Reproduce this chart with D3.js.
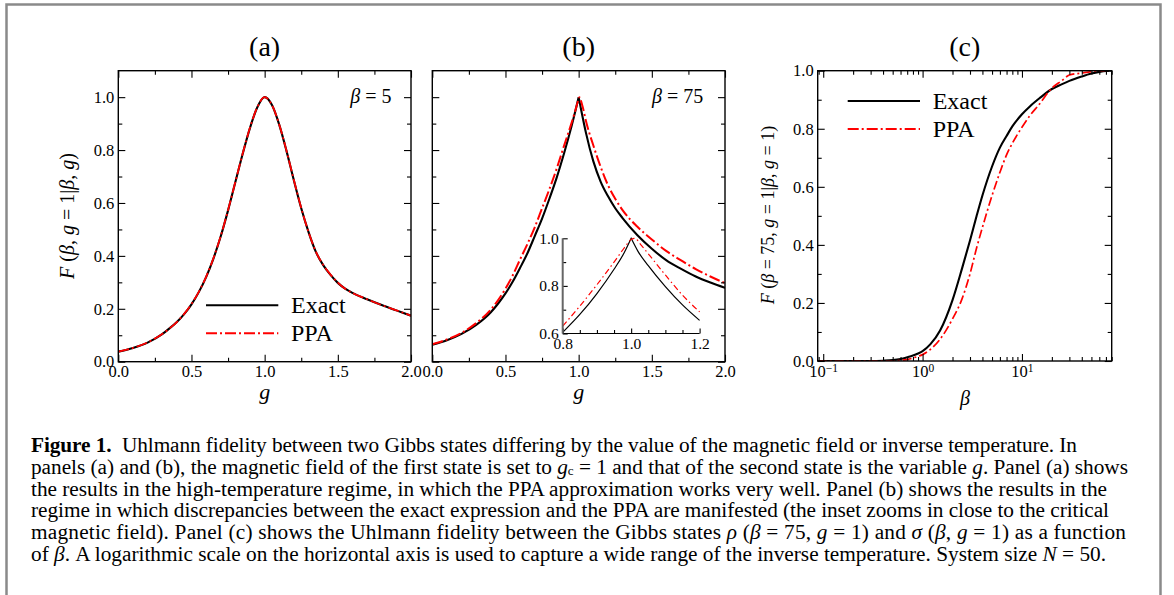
<!DOCTYPE html>
<html><head><meta charset="utf-8">
<script src="https://cdn.jsdelivr.net/npm/d3@7"></script>
<style>
body{margin:0;background:#fff;}
svg{display:block;}
text{font-family:"Liberation Serif","Times New Roman",serif;fill:#000;}
</style></head><body>
<svg id="fig" width="1174" height="595"></svg>
<script>
// ---------------- data ----------------
// Panel (a): beta = 5
const gA      = [0,0.1,0.2,0.3,0.35,0.4,0.45,0.5,0.55,0.6,0.65,0.7,0.75,0.8,0.85,0.9,0.95,1.0,1.05,1.1,1.15,1.2,1.25,1.3,1.35,1.4,1.45,1.5,1.55,1.6,1.7,1.8,1.9,2.0];
const exactA  = [0.038,0.052,0.072,0.104,0.126,0.15,0.18,0.217,0.263,0.32,0.39,0.474,0.572,0.679,0.786,0.884,0.962,1.0,0.97,0.895,0.795,0.685,0.58,0.49,0.415,0.365,0.328,0.298,0.276,0.26,0.236,0.214,0.194,0.174];
const ppaA    = [0.038,0.052,0.073,0.105,0.126,0.15,0.181,0.218,0.264,0.321,0.391,0.475,0.573,0.68,0.787,0.885,0.962,1.0,0.97,0.896,0.796,0.686,0.581,0.49,0.416,0.366,0.329,0.299,0.276,0.26,0.236,0.214,0.194,0.174];
// Panel (b): beta = 75
const gBexact = [0,0.1,0.2,0.3,0.4,0.45,0.5,0.55,0.6,0.65,0.7,0.75,0.8,0.85,0.9,0.95,0.98,1.0,1.02,1.05,1.1,1.15,1.2,1.25,1.3,1.4,1.5,1.6,1.7,1.8,1.9,2.0];
const exactB  = [0.064,0.081,0.105,0.139,0.187,0.22,0.258,0.303,0.355,0.41,0.475,0.541,0.616,0.696,0.787,0.887,0.953,1.0,0.944,0.865,0.758,0.681,0.626,0.58,0.543,0.479,0.427,0.383,0.351,0.322,0.299,0.279];
const gBppa   = [0,0.1,0.2,0.3,0.4,0.45,0.5,0.55,0.6,0.65,0.7,0.75,0.8,0.85,0.9,0.95,0.975,1.0,1.005,1.01,1.03,1.05,1.1,1.15,1.2,1.25,1.3,1.4,1.5,1.6,1.7,1.8,1.9,2.0];
const ppaB    = [0.066,0.084,0.109,0.146,0.197,0.233,0.276,0.327,0.387,0.445,0.508,0.58,0.652,0.73,0.816,0.9,0.945,0.993,1.0,0.995,0.958,0.91,0.818,0.737,0.668,0.616,0.573,0.511,0.462,0.418,0.383,0.35,0.322,0.297];
// Panel (b) inset
const gInExact = [0.8,0.85,0.9,0.95,0.98,1.0,1.02,1.05,1.1,1.15,1.2];
const exactIn  = [0.605,0.68,0.768,0.87,0.94,1.0,0.945,0.885,0.797,0.72,0.655];
const gInPpa   = [0.8,0.85,0.9,0.95,0.98,1.0,1.01,1.03,1.05,1.1,1.15,1.2];
const ppaIn    = [0.631,0.715,0.805,0.9,0.96,0.995,1.0,0.97,0.935,0.846,0.761,0.691];
// Panel (c): fidelity vs beta
const betaC   = [0.088,0.1,0.2,0.3,0.4,0.5,0.6,0.7,0.8,0.9,1.0,1.2,1.5,2,2.5,3,3.5,4,5,6,7,8,10,12,15,20,25,30,40,50,60,75];
const exactC  = [0,0,0,0,0.001,0.003,0.007,0.013,0.019,0.026,0.034,0.058,0.105,0.21,0.32,0.415,0.5,0.57,0.67,0.735,0.775,0.808,0.85,0.877,0.905,0.937,0.953,0.965,0.98,0.99,0.996,1.0];
const ppaC    = [0,0,0,0,0,0,0.002,0.005,0.01,0.016,0.022,0.04,0.075,0.145,0.215,0.3,0.39,0.46,0.57,0.65,0.71,0.75,0.805,0.845,0.885,0.94,0.965,0.985,0.992,0.997,1.0,1.0];
// tick values
const gTicksMajor = [0,0.5,1.0,1.5,2.0];
const gTicksMinor = [0.25,0.75,1.25,1.75];
const fTicksMajor = [0,0.2,0.4,0.6,0.8,1.0];
const fTicksMinor = [0.1,0.3,0.5,0.7,0.9];
const inXMajor = [0.8,1.0,1.2];
const inXMinor = [0.85,0.9,0.95,1.05,1.1,1.15];
const inYMajor = [0.6,0.8,1.0];
const inYMinor = [0.7,0.9];
const betaMajor = [0.1,1,10];
const betaMinor = [0.09,0.2,0.3,0.4,0.5,0.6,0.7,0.8,0.9,2,3,4,5,6,7,8,9,20,30,40,50,60,70,80];
const betaExp = ["\u22121","0","1"];
const panelTitles = ["(a)","(b)","(c)"];
const legendLabels = ["Exact","PPA"];

// caption lines: segments [text, style]
const caption = [
  [["Figure 1.","b"],["  Uhlmann fidelity between two Gibbs states differing by the value of the magnetic field or inverse temperature. In",""]],
  [["panels (a) and (b), the magnetic field of the first state is set to ",""],["g","i"],["c","sub"],[" = 1 and that of the second state is the variable ","rs"],["g","i"],[". Panel (a) shows",""]],
  [["the results in the high-temperature regime, in which the PPA approximation works very well. Panel (b) shows the results in the",""]],
  [["regime in which discrepancies between the exact expression and the PPA are manifested (the inset zooms in close to the critical",""]],
  [["magnetic field). Panel (c) shows the Uhlmann fidelity between the Gibbs states ",""],["\u03C1","i"],[" (",""],["\u03B2","i"],[" = 75, ",""],["g","i"],[" = 1)",""],[" and ",""],["\u03C3","i"],[" (",""],["\u03B2","i"],[", ",""],["g","i"],[" = 1)",""],[" as a function",""]],
  [["of ",""],["\u03B2","i"],[". A logarithmic scale on the horizontal axis is used to capture a wide range of the inverse temperature. System size ",""],["N","i"],[" = 50.",""]]
];
const captionEnds = [1077,1128,1107,1109,1126,1106];

// ---------------- layout ----------------
const svg = d3.select("#fig");
const RED = "#ff0000";
const P = {
  a:{x0:118.3,x1:411,y0:70.7,y1:361.7},
  b:{x0:432.3,x1:725,y0:70.7,y1:361.7},
  c:{x0:817.7,x1:1111.7,y0:70.7,y1:361}
};

// outer gray border
svg.append("path").attr("d","M6.5,595V4.5H1160.5V595")
  .attr("fill","none").attr("stroke","#8a8a8a").attr("stroke-width",2.5);

function pts(xs, ys){ return xs.map((x,i)=>[x,ys[i]]); }

function cuspPath(line, data, peakX){
  const i = data.findIndex(d=>d[0]===peakX);
  const left = data.slice(0,i+1), right = data.slice(i);
  return line(left) + line(right).replace(/^M/,"L");
}

function styleAxis(g, fs){
  g.attr("font-family",null).attr("font-size",null);
  g.select(".domain").remove();
  g.selectAll(".tick line").attr("stroke","#000").attr("stroke-width",1.1);
  g.selectAll(".tick text").attr("font-size",fs).attr("fill","#000")
    .style("font-family",'"Liberation Serif","Times New Roman",serif');
}

function frameTicks(p, x, y, o){
  const root = svg.append("g");
  const fmt = d3.format(".1f");
  const maj = 7, mnr = 4;
  root.append("g").attr("class","xbottom").attr("transform",`translate(0,${p.y1})`)
    .call(d3.axisBottom(x).tickValues(o.xMajor).tickSize(-maj).tickPadding(4).tickFormat(o.xFmt||fmt))
    .call(g=>styleAxis(g,16.5));
  root.append("g").attr("transform",`translate(0,${p.y1})`)
    .call(d3.axisBottom(x).tickValues(o.xMinor).tickSize(-mnr).tickFormat(""))
    .call(g=>styleAxis(g,16.5));
  root.append("g").attr("transform",`translate(0,${p.y0})`)
    .call(d3.axisTop(x).tickValues(o.xMajor).tickSize(-maj).tickFormat(""))
    .call(g=>styleAxis(g,16.5));
  root.append("g").attr("transform",`translate(0,${p.y0})`)
    .call(d3.axisTop(x).tickValues(o.xMinor).tickSize(-mnr).tickFormat(""))
    .call(g=>styleAxis(g,16.5));
  root.append("g").attr("transform",`translate(${p.x0},0)`)
    .call(d3.axisLeft(y).tickValues(fTicksMajor).tickSize(-maj).tickPadding(4).tickFormat(o.yLabels?fmt:""))
    .call(g=>styleAxis(g,16.5));
  root.append("g").attr("transform",`translate(${p.x0},0)`)
    .call(d3.axisLeft(y).tickValues(fTicksMinor).tickSize(-mnr).tickFormat(""))
    .call(g=>styleAxis(g,16.5));
  root.append("g").attr("transform",`translate(${p.x1},0)`)
    .call(d3.axisRight(y).tickValues(fTicksMajor).tickSize(-maj).tickFormat(""))
    .call(g=>styleAxis(g,16.5));
  root.append("g").attr("transform",`translate(${p.x1},0)`)
    .call(d3.axisRight(y).tickValues(fTicksMinor).tickSize(-mnr).tickFormat(""))
    .call(g=>styleAxis(g,16.5));
  root.append("rect").attr("x",p.x0).attr("y",p.y0)
    .attr("width",p.x1-p.x0).attr("height",p.y1-p.y0)
    .attr("fill","none").attr("stroke","#000").attr("stroke-width",1.4);
  return root;
}

function clip(id,p){
  svg.append("clipPath").attr("id",id).append("rect")
    .attr("x",p.x0).attr("y",p.y0).attr("width",p.x1-p.x0).attr("height",p.y1-p.y0);
}

function addText(parent, x, y, segs, fs, anchor, extra){
  const t = parent.append("text").attr("x",x).attr("y",y).attr("font-size",fs)
    .attr("text-anchor",anchor||"start");
  if(extra) extra(t);
  segs.forEach(s=>{
    const ts = t.append("tspan").text(s[0]);
    if(s[1]==="i") ts.attr("font-style","italic");
  });
  return t;
}

function legend(x0,x1,xt,yE,yP,fs){
  const g = svg.append("g");
  g.append("line").attr("x1",x0).attr("x2",x1).attr("y1",yE).attr("y2",yE)
    .attr("stroke","#000").attr("stroke-width",2);
  g.append("line").attr("x1",x0).attr("x2",x1).attr("y1",yP).attr("y2",yP)
    .attr("stroke",RED).attr("stroke-width",2).attr("stroke-dasharray","11,3,2,3");
  g.append("text").attr("x",xt).attr("y",yE+8).attr("font-size",fs).text(legendLabels[0]);
  g.append("text").attr("x",xt).attr("y",yP+8).attr("font-size",fs).text(legendLabels[1]);
}

// ---------------- panel (a) ----------------
{
  const p = P.a;
  const x = d3.scaleLinear().domain([0,2]).range([p.x0,p.x1]);
  const y = d3.scaleLinear().domain([0,1.1]).range([p.y1,p.y0]);
  clip("clipA",p);
  const line = d3.line().x(d=>x(d[0])).y(d=>y(d[1])).curve(d3.curveMonotoneX);
  const gl = svg.append("g").attr("clip-path","url(#clipA)");
  gl.append("path").attr("d",line(pts(gA,exactA))).attr("fill","none").attr("stroke","#000").attr("stroke-width",2.1);
  gl.append("path").attr("d",line(pts(gA,ppaA))).attr("fill","none").attr("stroke",RED).attr("stroke-width",1.8).attr("stroke-dasharray","11,3,2,3");
  frameTicks(p,x,y,{xMajor:gTicksMajor,xMinor:gTicksMinor,yLabels:true});
  svg.append("text").attr("x",(p.x0+p.x1)/2).attr("y",56).attr("text-anchor","middle").attr("font-size",28).text(panelTitles[0]);
  addText(svg, 391.5, 103, [["\u03B2","i"],[" = 5",""]], 20, "end");
  addText(svg, (p.x0+p.x1)/2, 399, [["g","i"]], 22, "middle");
  addText(svg, 0, 0, [["F","i"],[" (",""],["\u03B2","i"],[", ",""],["g","i"],[" = 1|",""],["\u03B2","i"],[", ",""],["g","i"],[")",""]], 20, "middle",
    t=>t.attr("transform","translate(74,216) rotate(-90)"));
  legend(206,278.3,291,305.3,333.3,24);
}

// ---------------- panel (b) ----------------
{
  const p = P.b;
  const x = d3.scaleLinear().domain([0,2]).range([p.x0,p.x1]);
  const y = d3.scaleLinear().domain([0,1.1]).range([p.y1,p.y0]);
  clip("clipB",p);
  const line = d3.line().x(d=>x(d[0])).y(d=>y(d[1])).curve(d3.curveMonotoneX);
  const gl = svg.append("g").attr("clip-path","url(#clipB)");
  gl.append("path").attr("d",cuspPath(line,pts(gBexact,exactB),1.0)).attr("fill","none").attr("stroke","#000").attr("stroke-width",2.1);
  gl.append("path").attr("d",line(pts(gBppa,ppaB))).attr("fill","none").attr("stroke",RED).attr("stroke-width",2).attr("stroke-dasharray","11,3,2,3");
  frameTicks(p,x,y,{xMajor:gTicksMajor,xMinor:gTicksMinor,yLabels:false});
  svg.append("text").attr("x",(p.x0+p.x1)/2).attr("y",56).attr("text-anchor","middle").attr("font-size",28).text(panelTitles[1]);
  addText(svg, 703.3, 103, [["\u03B2","i"],[" = 75",""]], 20, "end");
  addText(svg, (p.x0+p.x1)/2, 399, [["g","i"]], 22, "middle");

  // inset
  const ip = {x0:562.7,x1:699.6,y0:238.3,y1:333.5};
  const xi = d3.scaleLinear().domain([0.8,1.2]).range([ip.x0,ip.x1]);
  const yi = d3.scaleLinear().domain([0.6,1.0]).range([ip.y1,ip.y0]);
  const li = d3.line().x(d=>xi(d[0])).y(d=>yi(d[1])).curve(d3.curveMonotoneX);
  const gi = svg.append("g");
  gi.append("path").attr("d",cuspPath(li,pts(gInExact,exactIn),1.0)).attr("fill","none").attr("stroke","#000").attr("stroke-width",1.2);
  gi.append("path").attr("d",li(pts(gInPpa,ppaIn))).attr("fill","none").attr("stroke",RED).attr("stroke-width",1.2).attr("stroke-dasharray","6,3,1.5,3");
  gi.append("g").attr("transform",`translate(0,${ip.y1})`)
    .call(d3.axisBottom(xi).tickValues(inXMajor).tickSize(-5).tickPadding(4).tickFormat(d3.format(".1f")))
    .call(g=>styleAxis(g,15.5));
  gi.append("g").attr("transform",`translate(0,${ip.y1})`)
    .call(d3.axisBottom(xi).tickValues(inXMinor).tickSize(-3.5).tickFormat(""))
    .call(g=>styleAxis(g,15.5));
  gi.append("g").attr("transform",`translate(${ip.x0},0)`)
    .call(d3.axisLeft(yi).tickValues(inYMajor).tickSize(-5).tickPadding(4).tickFormat(d3.format(".1f")))
    .call(g=>styleAxis(g,15.5));
  gi.append("g").attr("transform",`translate(${ip.x0},0)`)
    .call(d3.axisLeft(yi).tickValues(inYMinor).tickSize(-3.5).tickFormat(""))
    .call(g=>styleAxis(g,15.5));
  gi.append("line").attr("x1",ip.x0).attr("x2",ip.x1).attr("y1",ip.y1).attr("y2",ip.y1).attr("stroke","#000").attr("stroke-width",1.2);
  gi.append("line").attr("x1",ip.x0).attr("x2",ip.x0).attr("y1",ip.y0).attr("y2",ip.y1).attr("stroke","#666").attr("stroke-width",2);
}

// ---------------- panel (c) ----------------
{
  const p = P.c;
  const x = d3.scaleLog().domain([0.088,80]).range([p.x0,p.x1]);
  const y = d3.scaleLinear().domain([0,1.0]).range([p.y1,p.y0]);
  clip("clipC",p);
  const line = d3.line().x(d=>x(d[0])).y(d=>y(d[1])).curve(d3.curveMonotoneX);
  const gl = svg.append("g").attr("clip-path","url(#clipC)");
  gl.append("path").attr("d",line(pts(betaC,exactC))).attr("fill","none").attr("stroke","#000").attr("stroke-width",2.1);
  gl.append("path").attr("d",line(pts(betaC,ppaC))).attr("fill","none").attr("stroke",RED).attr("stroke-width",1.7).attr("stroke-dasharray","9,3,2,3");
  const root = frameTicks(p,x,y,{xMajor:betaMajor,xMinor:betaMinor,yLabels:true,xFmt:()=>""});
  root.select(".xbottom").selectAll(".tick text").each(function(d){
      const t = d3.select(this);
      const k = betaMajor.indexOf(d);
      if(k<0) return;
      t.text(null).attr("dy","0.71em").attr("font-size",16.5);
      t.append("tspan").text("10");
      t.append("tspan").attr("dy","-0.45em").attr("font-size",11.5).text(betaExp[k]);
    });
  svg.append("text").attr("x",(p.x0+p.x1)/2).attr("y",56).attr("text-anchor","middle").attr("font-size",28).text(panelTitles[2]);
  addText(svg, 965, 405, [["\u03B2","i"]], 20, "middle", t=>t.attr("fill","#444"));
  addText(svg, 0, 0, [["F","i"],[" (",""],["\u03B2","i"],[" = 75, ",""],["g","i"],[" = 1|",""],["\u03B2","i"],[", ",""],["g","i"],[" = 1)",""]], 18, "middle",
    t=>t.attr("transform","translate(774,215) rotate(-90)"));
  legend(847.7,920,932.7,101,129,24);
}

// ---------------- caption ----------------
{
  const base = [451.7,473.6,495.5,517.4,539.3,561.2];
  const fs0 = 17;
  const texts = caption.map((segs,li)=>{
    const t = svg.append("text").attr("x",31).attr("y",base[li]).attr("font-size",fs0)
      .attr("xml:space","preserve");
    segs.forEach(s=>{
      const ts = t.append("tspan").text(s[0]);
      if(s[1]==="b") ts.attr("font-weight","bold");
      if(s[1]==="i") ts.attr("font-style","italic");
      if(s[1]==="sub") ts.attr("font-size",fs0*0.62).attr("dy",1.5);
      if(s[1]==="rs") ts.attr("dy",-1.5);
    });
    return t;
  });
  let ratio = 0;
  texts.forEach((t,i)=>{ ratio += (captionEnds[i]-31)/t.node().getComputedTextLength(); });
  ratio /= texts.length;
  texts.forEach((t,i)=>{
    t.attr("font-size",fs0*ratio);
    t.selectAll("tspan").each(function(){
      const s = d3.select(this);
      const f = s.attr("font-size");
      if(f) s.attr("font-size", +f*ratio);
    });
    t.attr("textLength",captionEnds[i]-31).attr("lengthAdjust","spacing");
  });
}
</script>
</body></html>
